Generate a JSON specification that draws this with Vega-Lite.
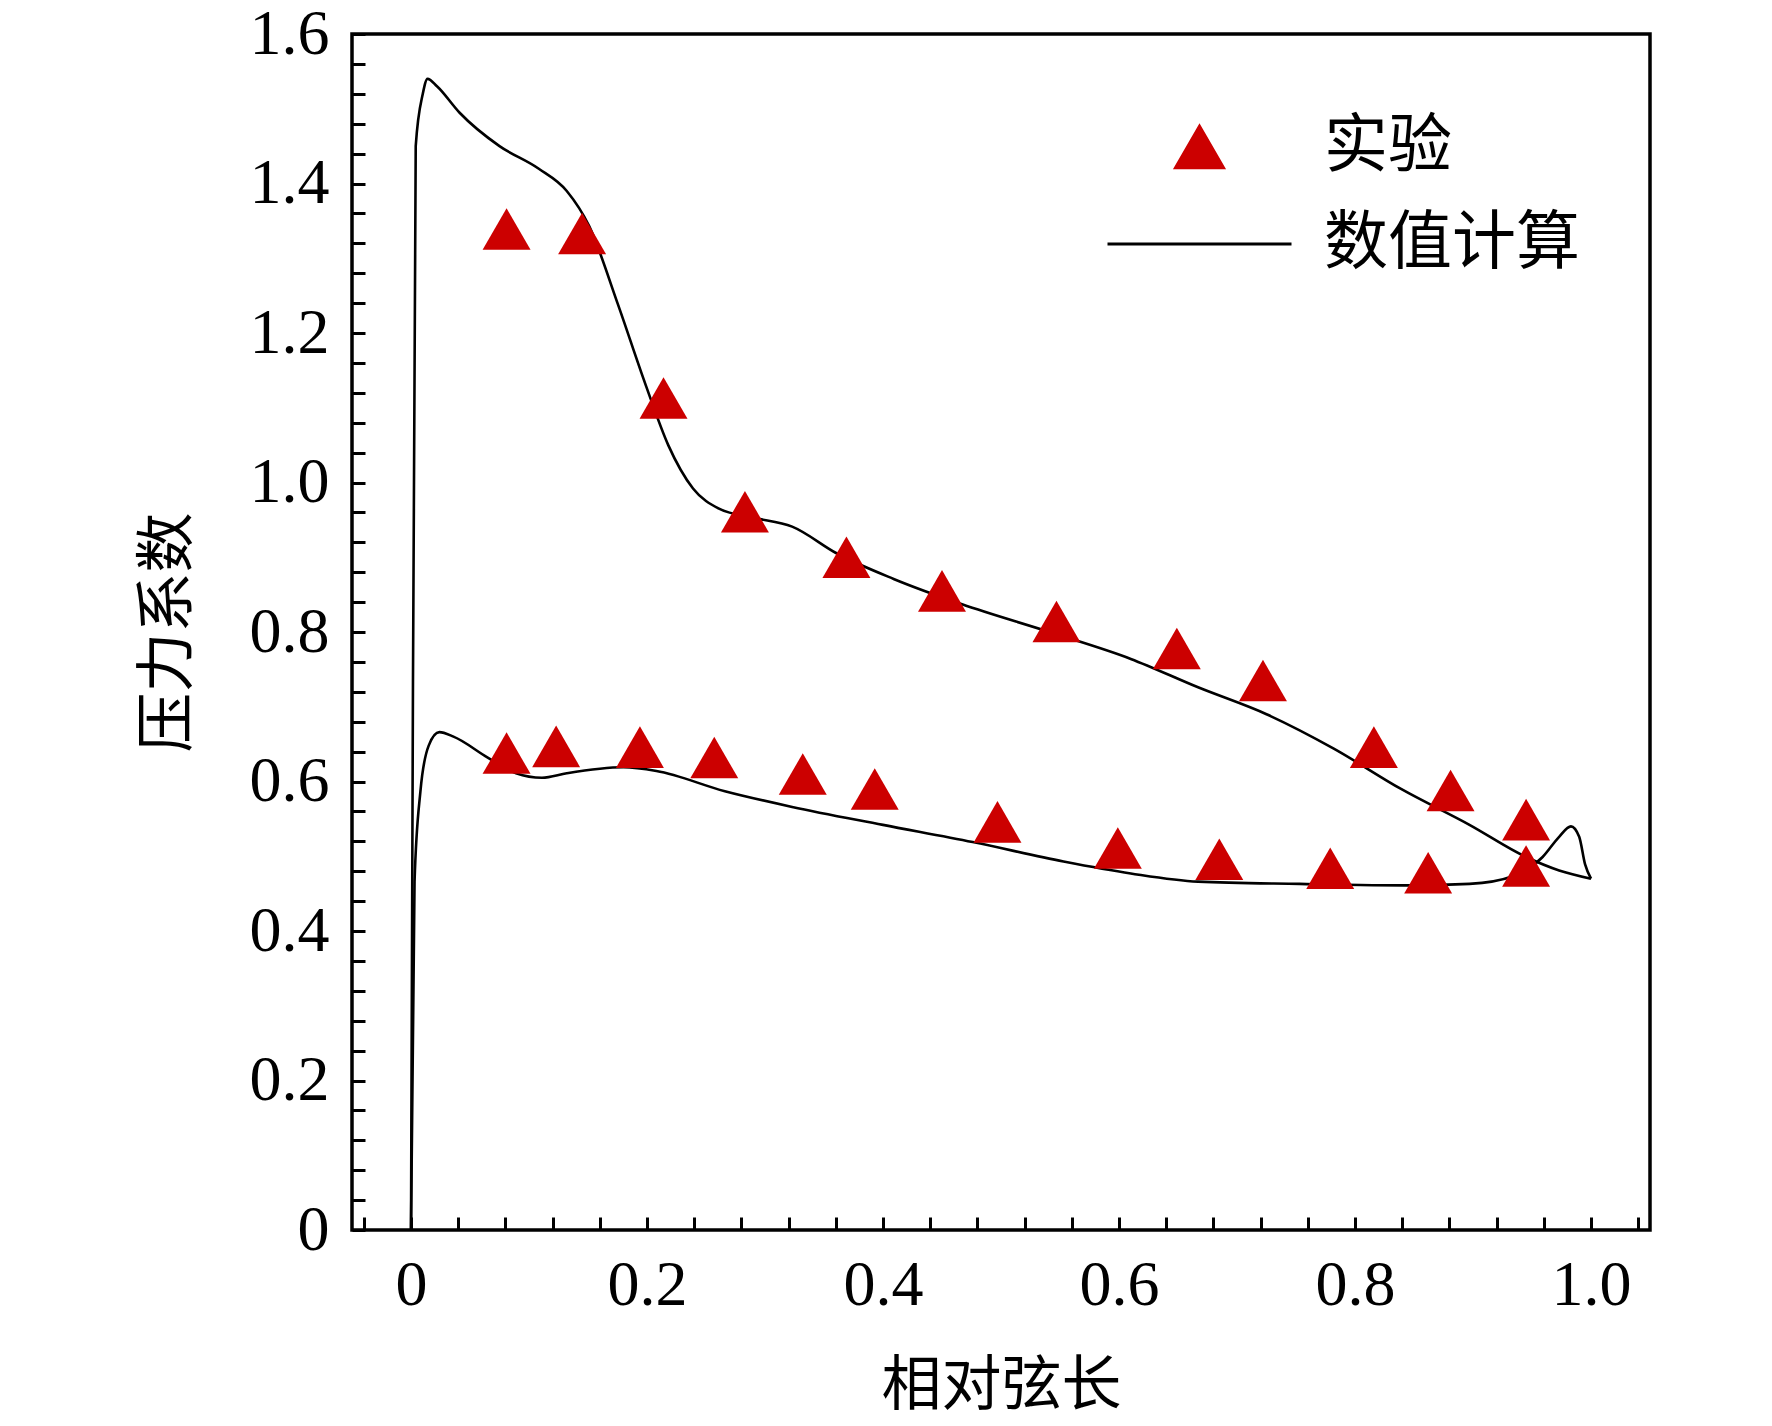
{
  "$schema": "https://vega.github.io/schema/vega-lite/v6.json",
  "width": 1298,
  "height": 1196,
  "padding": {"left": 352, "top": 34, "right": 122, "bottom": 196},
  "autosize": {"type": "none"},
  "background": "white",
  "config": {
    "view": {"stroke": "black", "strokeWidth": 3.5},
    "font": "Liberation Serif",
    "axis": {
      "domain": false,
      "grid": false,
      "ticks": true,
      "tickColor": "black",
      "tickWidth": 3,
      "tickSize": -13,
      "labelFont": "Liberation Serif",
      "labelFontSize": 64,
      "labelColor": "black",
      "titleFont": "Noto Sans CJK SC",
      "titleFontSize": 60,
      "titleFontWeight": "normal",
      "titleColor": "black"
    }
  },
  "datasets": {
    "exp": [
      {"x": 0.081, "y": 1.339}, {"x": 0.145, "y": 1.333}, {"x": 0.214, "y": 1.113},
      {"x": 0.283, "y": 0.961}, {"x": 0.369, "y": 0.9}, {"x": 0.45, "y": 0.855},
      {"x": 0.547, "y": 0.814}, {"x": 0.649, "y": 0.778}, {"x": 0.722, "y": 0.735},
      {"x": 0.816, "y": 0.646}, {"x": 0.881, "y": 0.588}, {"x": 0.945, "y": 0.549},
      {"x": 0.081, "y": 0.638}, {"x": 0.123, "y": 0.647}, {"x": 0.194, "y": 0.646},
      {"x": 0.257, "y": 0.632}, {"x": 0.332, "y": 0.61}, {"x": 0.393, "y": 0.59},
      {"x": 0.497, "y": 0.546}, {"x": 0.599, "y": 0.511}, {"x": 0.685, "y": 0.496},
      {"x": 0.779, "y": 0.484}, {"x": 0.862, "y": 0.478}, {"x": 0.945, "y": 0.487}
    ],
    "cfd": [
      {"s": "upper", "x": 0, "y": 0}, {"s": "upper", "x": 0.001, "y": 0.44},
      {"s": "upper", "x": 0.004, "y": 1.45}, {"s": "upper", "x": 0.01, "y": 1.52},
      {"s": "upper", "x": 0.014, "y": 1.54}, {"s": "upper", "x": 0.022, "y": 1.53},
      {"s": "upper", "x": 0.041, "y": 1.495}, {"s": "upper", "x": 0.075, "y": 1.45},
      {"s": "upper", "x": 0.108, "y": 1.42}, {"s": "upper", "x": 0.132, "y": 1.39},
      {"s": "upper", "x": 0.151, "y": 1.343}, {"s": "upper", "x": 0.175, "y": 1.24},
      {"s": "upper", "x": 0.199, "y": 1.13}, {"s": "upper", "x": 0.218, "y": 1.05},
      {"s": "upper", "x": 0.239, "y": 0.992}, {"s": "upper", "x": 0.261, "y": 0.965},
      {"s": "upper", "x": 0.29, "y": 0.953}, {"s": "upper", "x": 0.323, "y": 0.941},
      {"s": "upper", "x": 0.361, "y": 0.905}, {"s": "upper", "x": 0.409, "y": 0.871},
      {"s": "upper", "x": 0.467, "y": 0.837}, {"s": "upper", "x": 0.543, "y": 0.799},
      {"s": "upper", "x": 0.61, "y": 0.764}, {"s": "upper", "x": 0.667, "y": 0.726},
      {"s": "upper", "x": 0.725, "y": 0.69}, {"s": "upper", "x": 0.782, "y": 0.644},
      {"s": "upper", "x": 0.839, "y": 0.59}, {"s": "upper", "x": 0.897, "y": 0.542},
      {"s": "upper", "x": 0.945, "y": 0.499}, {"s": "upper", "x": 0.973, "y": 0.481},
      {"s": "upper", "x": 1.0, "y": 0.47},
      {"s": "lower", "x": 0, "y": 0}, {"s": "lower", "x": 0.003, "y": 0.466},
      {"s": "lower", "x": 0.008, "y": 0.587}, {"s": "lower", "x": 0.015, "y": 0.648},
      {"s": "lower", "x": 0.024, "y": 0.666}, {"s": "lower", "x": 0.036, "y": 0.66},
      {"s": "lower", "x": 0.065, "y": 0.632}, {"s": "lower", "x": 0.089, "y": 0.611},
      {"s": "lower", "x": 0.111, "y": 0.605}, {"s": "lower", "x": 0.132, "y": 0.611},
      {"s": "lower", "x": 0.18, "y": 0.619}, {"s": "lower", "x": 0.208, "y": 0.614},
      {"s": "lower", "x": 0.266, "y": 0.587}, {"s": "lower", "x": 0.323, "y": 0.566},
      {"s": "lower", "x": 0.4, "y": 0.542}, {"s": "lower", "x": 0.476, "y": 0.519},
      {"s": "lower", "x": 0.553, "y": 0.493}, {"s": "lower", "x": 0.61, "y": 0.477},
      {"s": "lower", "x": 0.667, "y": 0.466}, {"s": "lower", "x": 0.753, "y": 0.463},
      {"s": "lower", "x": 0.849, "y": 0.461}, {"s": "lower", "x": 0.897, "y": 0.463},
      {"s": "lower", "x": 0.935, "y": 0.474}, {"s": "lower", "x": 0.959, "y": 0.499},
      {"s": "lower", "x": 0.973, "y": 0.526}, {"s": "lower", "x": 0.983, "y": 0.54},
      {"s": "lower", "x": 0.99, "y": 0.526}, {"s": "lower", "x": 0.995, "y": 0.489},
      {"s": "lower", "x": 1.0, "y": 0.47}
    ]
  },
  "encoding": {
    "x": {
      "field": "x", "type": "quantitative",
      "scale": {"domain": [-0.05, 1.05], "nice": false, "zero": false},
      "axis": {
        "title": "相对弦长",
        "titlePadding": 40,
        "labelPadding": 36,
        "values": [-0.04, 0, 0.04, 0.08, 0.12, 0.16, 0.2, 0.24, 0.28, 0.32, 0.36, 0.4, 0.44, 0.48, 0.52, 0.56, 0.6, 0.64, 0.68, 0.72, 0.76, 0.8, 0.84, 0.88, 0.92, 0.96, 1.0, 1.04],
        "labelExpr": "abs(round(datum.value*5)/5 - datum.value) < 0.001 ? (datum.value == 0 ? '0' : format(datum.value, '.1f')) : ''",
        "encode": {"ticks": {"update": {"y2": {"signal": "abs(round(datum.value*5)/5 - datum.value) < 0.001 ? -24 : -13"}}}}
      }
    },
    "y": {
      "field": "y", "type": "quantitative",
      "scale": {"domain": [0, 1.6], "nice": false},
      "axis": {
        "title": "压力系数",
        "titlePadding": 50,
        "labelPadding": 36,
        "values": [0, 0.04, 0.08, 0.12, 0.16, 0.2, 0.24, 0.28, 0.32, 0.36, 0.4, 0.44, 0.48, 0.52, 0.56, 0.6, 0.64, 0.68, 0.72, 0.76, 0.8, 0.84, 0.88, 0.92, 0.96, 1.0, 1.04, 1.08, 1.12, 1.16, 1.2, 1.24, 1.28, 1.32, 1.36, 1.4, 1.44, 1.48, 1.52, 1.56, 1.6],
        "labelExpr": "abs(round(datum.value*5)/5 - datum.value) < 0.001 ? (datum.value == 0 ? '0' : format(datum.value, '.1f')) : ''",
        "encode": {"ticks": {"update": {"x2": {"signal": "abs(round(datum.value*5)/5 - datum.value) < 0.001 ? 24 : 13"}}}}
      }
    },
    "color": {
      "datum": "数值计算",
      "type": "nominal",
      "scale": {"domain": ["实验", "数值计算"], "range": ["#cc0000", "black"]},
      "legend": {
        "title": null,
        "orient": "none",
        "legendX": 754,
        "legendY": 88,
        "labelFont": "Noto Sans CJK SC",
        "labelFontSize": 64,
        "labelColor": "black",
        "labelLimit": 400,
        "labelOffset": 31,
        "clipHeight": 50,
        "rowPadding": 33,
        "encode": {
          "symbols": {
            "update": {
              "shape": {"signal": "datum.value == '实验' ? 'triangle-up' : 'stroke'"},
              "size": {"signal": "datum.value == '实验' ? 2300 : 33856"},
              "fill": {"signal": "datum.value == '实验' ? '#cc0000' : 'transparent'"},
              "stroke": {"signal": "datum.value == '实验' ? 'transparent' : 'black'"},
              "strokeWidth": {"value": 3},
              "opacity": {"value": 1}
            }
          }
        }
      }
    }
  },
  "layer": [
    {
      "data": {"name": "cfd"},
      "mark": {"type": "line", "strokeWidth": 2.6, "interpolate": "monotone"},
      "encoding": {"detail": {"field": "s"}, "order": {"field": "x"}}
    },
    {
      "data": {"name": "exp"},
      "mark": {"type": "point", "shape": "triangle-up", "filled": true, "size": 2300, "opacity": 1},
      "encoding": {"color": {"datum": "实验", "type": "nominal"}}
    }
  ]
}
